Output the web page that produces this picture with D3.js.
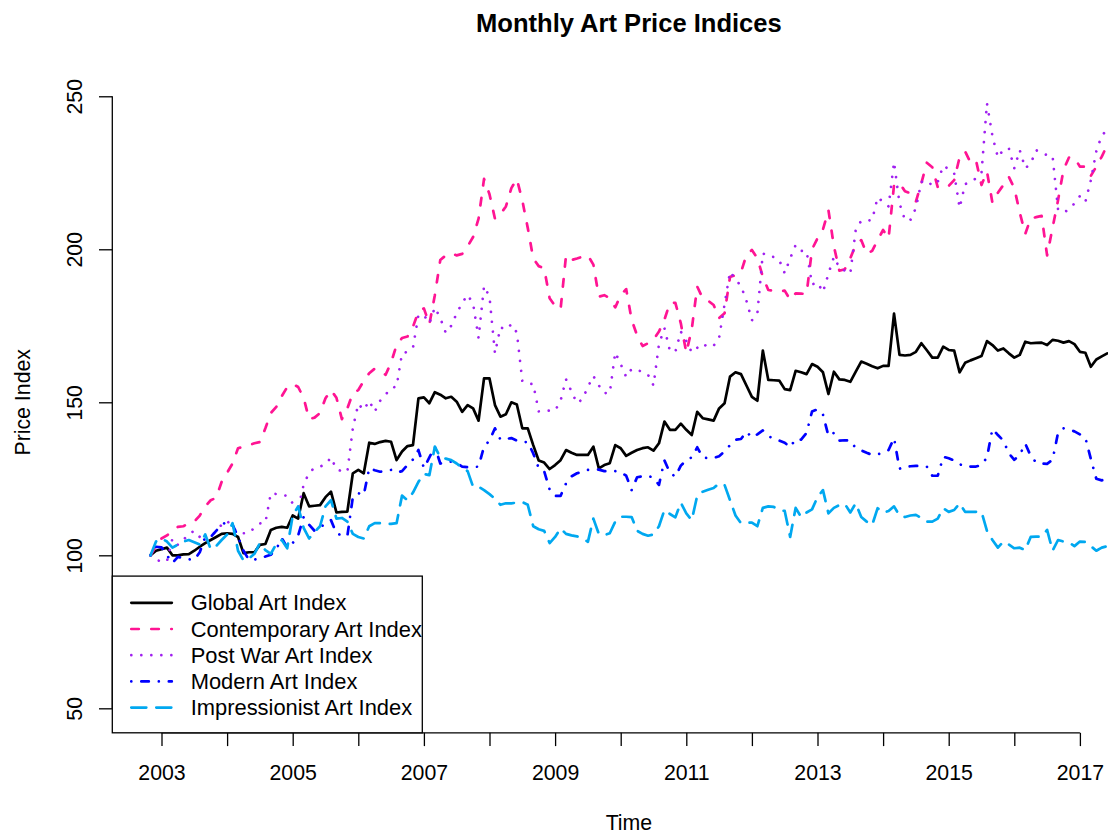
<!DOCTYPE html>
<html>
<head>
<meta charset="utf-8">
<script src="https://cdn.jsdelivr.net/npm/d3@7"></script>
<style>
  body { margin: 0; background: #fff; }
  svg { display: block; font-family: "Liberation Sans", Arial, Helvetica, sans-serif; }
</style>
</head>
<body>
<div id="chart"></div>
<script>
// monthly series, starting Nov 2002
var startYear = 2002, startMonth = 11;

var globalIdx = [
  100, 101.5, 102, 102.5, 100, 100, 100.3, 100.4, 101.5, 102.8, 104, 105,
  106, 107, 107.2, 107, 106, 100.7, 101, 101, 103.4, 103.7, 108.3, 109,
  109.3, 109, 113, 112, 120.3, 116, 116.2, 116.4, 119, 120.8, 114, 114.2,
  114.3, 126.8, 127.9, 126.8, 136.8, 136.4, 137, 137.4, 137.1, 131.1, 133.9, 135.7,
  136, 151.3, 151.6, 149.7, 153.3, 152.5, 151.3, 151.8, 150.2, 146.9, 149.1, 148,
  144, 157.8, 157.8, 149.1, 145.3, 146.1, 150, 149.3, 141.5, 141.5, 136, 131,
  130.3, 128.2, 129.5, 131.1, 134.4, 133.5, 132.8, 132.8, 132.8, 135.5, 128.4, 129.5,
  130.1, 136, 135, 132.5, 133.5, 134.4, 135, 135.3, 134.2, 136.6, 143.7, 141,
  141, 143, 141, 139.3, 146.9, 144.8, 144.4, 144, 148, 149.7, 158.4, 159.8,
  159.2, 155.5, 151.8, 150.5, 166.9, 157.3, 157.2, 157.1, 154.3, 154, 160.3, 159.8,
  159.2, 162.5, 161.6, 159.8, 152.7, 160, 157.5, 157.3, 156.7, 160, 163.3, 162.6,
  161.8, 161.1, 161.9, 161.9, 179, 165.5, 165.3, 165.5, 166.5, 169.3, 167, 164.6,
  164.6, 168.2, 167.1, 166.9, 159.8, 162.9, 163.7, 164.4, 165.1, 170, 168.7, 166.9,
  167.6, 166, 164.6, 165.5, 169.8, 169.3, 169.4, 169.5, 168.7, 170.4, 170.1, 169.5,
  170, 169, 166.5, 166.2, 161.6, 164, 165, 166
];

var contemporaryIdx = [
  100, 103, 105.5, 106.5, 108, 109.3, 109.5, 110.5, 111, 113, 116, 118,
  118.8, 124, 127, 130, 135, 135.5, 136, 136.6, 137, 141.5, 146.5, 148.5,
  152, 155, 156, 155, 151.5, 144.5, 145, 146.5, 151.3, 154, 151.5, 144.5,
  148, 153, 154, 157, 159.5, 161, 160, 159, 163, 168.7, 171, 171.5,
  174.7, 179.6, 180.7, 175.5, 185, 196.5, 198, 198.7, 198, 198.5, 201, 204,
  210, 223, 218, 210, 211.5, 214, 220, 223, 216, 207, 197, 194.5,
  193.8, 184, 181.5, 180.4, 198, 196.5, 197, 197.6, 198, 195, 184.5, 185,
  184, 181, 185, 187, 177, 171.8, 168.4, 169.3, 170.5, 173.1, 177, 182.5,
  182.5, 175.8, 166.2, 173.9, 187.8, 184, 183.2, 181.8, 177.5, 179.1, 191, 191.5,
  192.5, 198.1, 199.8, 197.1, 191, 186.7, 186.4, 186.1, 186.5, 183.5, 185.6, 185.5,
  185.4, 200, 203.6, 206.5, 212.8, 201, 193, 193.5, 197.1, 201.4, 203, 198.5,
  199.5, 203, 206.3, 203.6, 221, 221.6, 219, 218.3, 215.6, 221.6, 228.3, 226.8,
  220.3, 221, 220.7, 222.6, 230.1, 232, 228.3, 229, 221, 225.4, 215.2, 218.5,
  221, 223.7, 220, 212, 205, 210.1, 210.5, 210.9, 198, 207, 216, 226,
  230, 230, 227, 227, 224, 227, 230.3, 234
];

var postWarIdx = [
  100, 98.5, 98, 98, 105.5, 103.4, 105, 107, 108, 106, 104.4, 106.1,
  108, 110, 111.3, 109, 107.5, 107.2, 107.3, 109, 110.4, 110.6, 120.3, 120,
  119.8, 119.4, 117, 115.4, 123, 127, 128.6, 129, 129.7, 132, 128.1, 127.5,
  127.3, 141.5, 149.5, 147.5, 150.5, 146.9, 150.5, 152.5, 154.7, 155.1, 166, 166.5,
  167.8, 178.5, 178.5, 175.8, 181, 177.5, 172.7, 175, 179.1, 182.5, 185.1, 182.2,
  171, 188, 184.5, 166, 174.5, 173.8, 175.5, 172.8, 157, 156, 156, 147,
  147.2, 147.3, 147.3, 150.5, 157.5, 153.5, 149.7, 151, 155, 158.6, 155.5, 153,
  153, 166.3, 162.5, 158.3, 160.9, 160.5, 160, 159, 155.5, 169, 174.2, 166.8,
  166.5, 173.1, 170, 166.3, 167.8, 169.2, 168, 168.5, 171, 182, 192.7, 190.2,
  188, 183.2, 176.8, 179, 198.7, 197.7, 197.5, 196.5, 192.2, 197, 201.4, 199.5,
  199.4, 188.5, 189.2, 186, 192, 197.5, 194, 193, 192, 206.5, 209.3, 209.3,
  209.6, 217, 215.5, 214, 228.5, 215, 209.5, 209.6, 213.5, 222, 222.5, 220.8,
  222, 227.3, 226.2, 224.8, 213.5, 221.3, 222, 223.2, 225, 247.7, 237, 230,
  232.6, 233, 226.5, 232.4, 226.5, 228, 232.4, 231.4, 230.8, 230.5, 213, 212,
  213, 215, 217.4, 215.5, 222.5, 232, 237.2, 239
];

var modernIdx = [
  100, 102.8, 102.6, 100, 97.5, 99.5, 99, 98.7, 98.5, 101, 106, 106,
  108, 110, 111, 110, 106, 101.5, 98.5, 98.6, 99, 99.6, 100.2, 102,
  105.6, 102.5, 104, 106.5, 112.5, 110, 108, 109, 110.5, 111.5, 107.2, 106.5,
  106.3, 119, 120.3, 119.7, 128.5, 127.8, 127.3, 127.5, 127.9, 127, 127.5, 129.5,
  131.3, 134.4, 128.5, 132, 135.5, 130, 130.5, 130.6, 130.1, 129, 128.8, 128.8,
  129, 135.5, 137.5, 141.5, 137.8, 138, 138.3, 137.5, 137, 137, 133.3, 128.5,
  127.5, 121.5, 119.4, 119.4, 123.5, 125.8, 126.8, 127.3, 127.9, 128, 128, 127.5,
  127.5, 127.5, 127.2, 126, 121.3, 125.5, 125.8, 126, 125.3, 123, 131, 127,
  125.7, 129.3, 131.1, 132, 135.3, 132, 131.7, 131.8, 132.4, 134, 136, 137.8,
  138, 140.4, 138.5, 139.5, 140.8, 139, 138, 137.5, 136.8, 135.3, 138, 137.8,
  140, 147, 147.7, 146, 139, 140, 137.5, 137.6, 137.5, 135, 134.3, 133.5,
  132.8, 133, 133.5, 134.4, 138.3, 128.3, 129, 129.1, 129.2, 129.2, 129, 126,
  126, 132.2, 131.7, 131, 129.8, 129, 129, 129, 129.5, 132, 141.3, 139.3,
  137.5, 133.3, 131.2, 132.8, 136.5, 132.5, 130.3, 130, 129.9, 131.2, 140, 141.5,
  141.2, 140.5, 139.5, 138.4, 131.5, 125, 124.5, 125
];

var impressionistIdx = [
  100, 104.5, 105.5, 104.5, 102.5, 103.5, 104.5, 105, 104.3, 103.5, 106.8, 102,
  103, 105, 106.8, 110.5, 101.5, 98.3, 99, 100.5, 104, 101.7, 100.5, 103.7,
  105, 102.3, 113, 116, 109, 105.5, 107.6, 109.5, 116, 118, 112, 112.2,
  111, 107, 106, 105.5, 109.5, 110.5, 110.5, 110.2, 110.3, 110.5, 119.5, 118,
  120.5, 124, 126.6, 126.2, 135.5, 132, 131.6, 131.1, 130, 128.6, 127.5, 122.4,
  122.4, 121.3, 120, 118.5, 116.5, 117, 117, 117.2, 117.4, 116.5, 109.5, 108.5,
  108, 104, 106, 108.8, 107, 106.5, 106.2, 105.5, 104.4, 112, 107, 106.6,
  107.2, 111, 112.6, 112.6, 112.5, 108, 107, 106.4, 106.8, 109.5, 114.8, 113.5,
  112.4, 117.2, 113.7, 111.5, 119.5, 120.8, 121.4, 122, 123.5, 123, 118, 113,
  110.5, 110.6, 110.7, 109.5, 115.5, 116, 115.8, 114.8, 114.5, 106, 115.5, 112.5,
  114, 115, 119, 121.3, 113.7, 115.5, 116.4, 116.8, 114, 117, 112.5, 111,
  109.9, 115.4, 113.9, 114.5, 116, 113, 112.5, 113, 113.2, 112.2, 111, 111,
  112, 115.4, 114.2, 114.8, 117, 114.2, 114.2, 114.2, 114.2, 108, 105, 102.5,
  104.5, 103.5, 102.3, 102.5, 101.7, 106, 106.1, 106.1, 108.3, 101.5, 105, 104.5,
  104.2, 103, 104.5, 104.4, 103, 101.5, 102.5, 103
];

var seriesNames = ["Global Art Index", "Contemporary Art Index", "Post War Art Index",
                   "Modern Art Index", "Impressionist Art Index"];
var xTicks = [2003, 2004, 2005, 2006, 2007, 2008, 2009, 2010, 2011, 2012, 2013, 2014, 2015, 2016, 2017];
var yTicks = [50, 100, 150, 200, 250];
var yLimits = [50, 250];

// line styles (R lty 1..5, lwd 2)
var seriesColors = ["#000000", "#FF1493", "#A020F0", "#0000FF", "#00A8F0"];
var seriesDash = [null, "7.5,12.5", "0.01,10", "0.01,10,7.5,10", "15,10"];

var svgWidth = 1108, svgHeight = 836;
var plot = { left: 112.3, right: 1145.5, top: 71.8, bottom: 732.8 };
var fontSize = 21.3;

var svg = d3.select("#chart").append("svg")
    .attr("width", svgWidth)
    .attr("height", svgHeight);

var allSeries = [globalIdx, contemporaryIdx, postWarIdx, modernIdx, impressionistIdx];
var nObs = globalIdx.length;
var tStart = startYear + (startMonth - 1) / 12;
var tEnd = tStart + (nObs - 1) / 12;
var tPad = (tEnd - tStart) * 0.04;
var yPad = (yLimits[1] - yLimits[0]) * 0.04;

var xScale = d3.scaleLinear()
    .domain([tStart - tPad, tEnd + tPad])
    .range([plot.left, plot.right]);
var yScale = d3.scaleLinear()
    .domain([yLimits[0] - yPad, yLimits[1] + yPad])
    .range([plot.bottom, plot.top]);

svg.append("clipPath").attr("id", "plotClip")
  .append("rect")
    .attr("x", plot.left).attr("y", plot.top)
    .attr("width", plot.right - plot.left)
    .attr("height", plot.bottom - plot.top);

var line = d3.line()
    .x(function(d, i) { return xScale(tStart + i / 12); })
    .y(function(d) { return yScale(d); });

var linesGroup = svg.append("g").attr("clip-path", "url(#plotClip)");
allSeries.forEach(function(values, k) {
    linesGroup.append("path")
        .datum(values)
        .attr("d", line)
        .attr("fill", "none")
        .attr("stroke", seriesColors[k])
        .attr("stroke-width", 2.7)
        .attr("stroke-linecap", "round")
        .attr("stroke-linejoin", "round")
        .attr("stroke-dasharray", seriesDash[k]);
});

// x axis (labels only where R found room: odd years)
var xAxis = d3.axisBottom(xScale)
    .tickValues(xTicks)
    .tickSize(13.3)
    .tickFormat(function(d) { return d % 2 === 1 ? String(d) : ""; });
var xAxisG = svg.append("g")
    .attr("transform", "translate(0," + plot.bottom + ")")
    .call(xAxis);
xAxisG.select(".domain").remove();
xAxisG.append("line")
    .attr("x1", xScale(xTicks[0])).attr("x2", xScale(xTicks[xTicks.length - 1]))
    .attr("stroke", "#000");
xAxisG.selectAll("line").attr("stroke", "#000").attr("stroke-width", 1.3);
xAxisG.selectAll("text")
    .attr("y", 47.3).attr("dy", 0)
    .attr("fill", "#000")
    .style("font-size", fontSize + "px")
    .style("font-family", "'Liberation Sans', Arial, sans-serif");

// y axis with rotated labels
var yAxis = d3.axisLeft(yScale)
    .tickValues(yTicks)
    .tickSize(13.3)
    .tickFormat(d3.format("d"));
var yAxisG = svg.append("g")
    .attr("transform", "translate(" + plot.left + ",0)")
    .call(yAxis);
yAxisG.select(".domain").remove();
yAxisG.append("line")
    .attr("y1", yScale(yTicks[0])).attr("y2", yScale(yTicks[yTicks.length - 1]));
yAxisG.selectAll("line").attr("stroke", "#000").attr("stroke-width", 1.3);
yAxisG.selectAll("text")
    .attr("transform", "rotate(-90)")
    .attr("x", 0).attr("y", -30.6).attr("dy", 0)
    .attr("text-anchor", "middle")
    .attr("fill", "#000")
    .style("font-size", fontSize + "px")
    .style("font-family", "'Liberation Sans', Arial, sans-serif");

// title and axis titles
var midX = (plot.left + plot.right) / 2;
svg.append("text")
    .attr("x", midX).attr("y", 31.5)
    .attr("text-anchor", "middle")
    .style("font-size", (fontSize * 1.2) + "px")
    .style("font-weight", "bold")
    .text("Monthly Art Price Indices");

svg.append("text")
    .attr("x", midX).attr("y", 830)
    .attr("text-anchor", "middle")
    .style("font-size", fontSize + "px")
    .text("Time");

svg.append("text")
    .attr("transform", "translate(29.5," + ((plot.top + plot.bottom) / 2) + ") rotate(-90)")
    .attr("text-anchor", "middle")
    .style("font-size", fontSize + "px")
    .text("Price Index");

// legend, bottom left
var legend = svg.append("g");
var legendW = 310, legendH = 156.7, rowH = 26.2;
legend.append("rect")
    .attr("x", plot.left).attr("y", plot.bottom - legendH)
    .attr("width", legendW).attr("height", legendH)
    .attr("fill", "#fff")
    .attr("stroke", "#000")
    .attr("stroke-width", 1.3);

var rows = legend.selectAll(".row")
    .data(seriesNames)
    .enter().append("g")
    .attr("transform", function(d, i) {
        return "translate(" + plot.left + "," + (plot.bottom - legendH + 26.7 + i * rowH) + ")";
    });
rows.append("line")
    .attr("x1", 19).attr("x2", 59.5)
    .attr("stroke", function(d, i) { return seriesColors[i]; })
    .attr("stroke-width", 2.7)
    .attr("stroke-linecap", "round")
    .attr("stroke-dasharray", function(d, i) { return seriesDash[i]; });
rows.append("text")
    .attr("x", 78.4).attr("y", 7.6)
    .style("font-size", "21.9px")
    .text(function(d) { return d; });
</script>
</body>
</html>
